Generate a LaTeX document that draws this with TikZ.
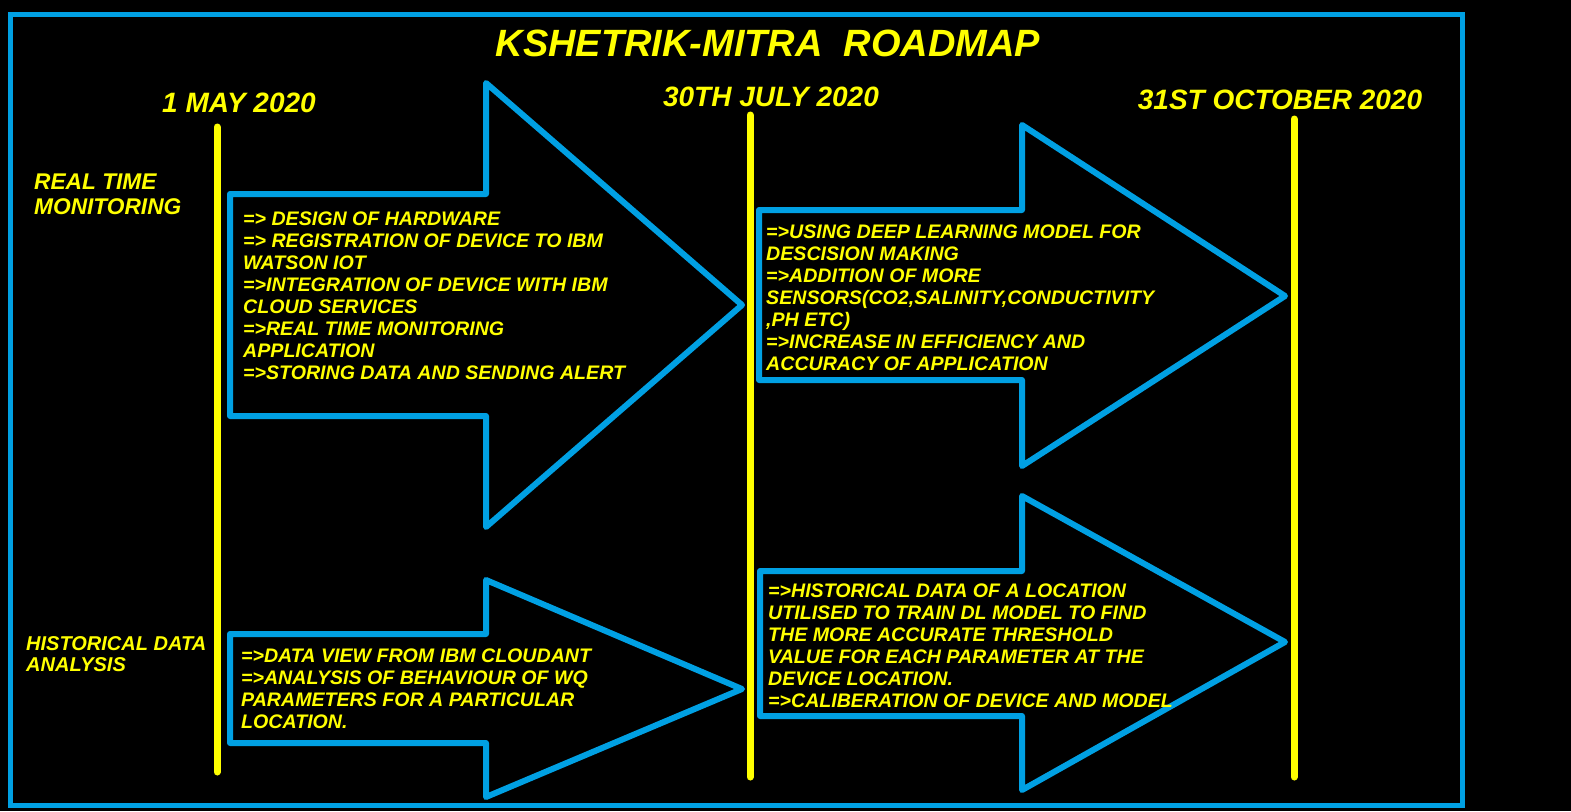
\documentclass[tikz,border=0pt]{standalone}
\usepackage{fontspec}
\setmainfont{Liberation Sans}
\definecolor{blu}{RGB}{0,160,227}
\definecolor{ylw}{RGB}{255,255,0}
\begin{document}
\begin{tikzpicture}[x=1pt,y=-1pt,
  lbl/.style={text=ylw,inner sep=0pt},
  body/.style={lbl,align=left,anchor=north west,font=\fontsize{19.6}{22}\selectfont\bfseries\itshape},
  blk/.style={draw=blu,line width=6pt,line join=round},
  tline/.style={draw=ylw,line width=7pt,line cap=round}]
\fill[black] (0,0) rectangle (1571,811);
\useasboundingbox (0,0) rectangle (1571,811);
\draw[blu,line width=5pt] (10,14) rectangle (1462,805);

% timelines
\coordinate (l1t) at (217,127); \coordinate (l1b) at (217,772);
\coordinate (l2t) at (750,115); \coordinate (l2b) at (750,777);
\coordinate (l3t) at (1294,119); \coordinate (l3b) at (1294,777);
\draw[tline] (l1t) -- (l1b);
\draw[tline] (l2t) -- (l2b);
\draw[tline] (l3t) -- (l3b);

% block arrows
\draw[blk] (230,194) -- (486,194) -- (486,83) -- (742,305) -- (486,527) -- (486,416) -- (230,416) -- cycle;
\draw[blk] (759,210) -- (1022,210) -- (1022,125) -- (1285,296) -- (1022,466) -- (1022,380) -- (759,380) -- cycle;
\draw[blk] (230,634) -- (486,634) -- (486,580) -- (742,689) -- (486,797) -- (486,743) -- (230,743) -- cycle;
\draw[blk] (760,571) -- (1022,571) -- (1022,496) -- (1285,642) -- (1022,790) -- (1022,716) -- (760,716) -- cycle;

% title and dates
\node[lbl,font=\fontsize{38}{40}\selectfont\bfseries\itshape] (title) at (768,43) {KSHETRIK-MITRA\ \ ROADMAP};
\node[lbl,font=\fontsize{28}{30}\selectfont\bfseries\itshape] (d1) at (239,103) {1 MAY 2020};
\node[lbl,font=\fontsize{28}{30}\selectfont\bfseries\itshape] (d2) at (771,97) {30TH JULY 2020};
\node[lbl,font=\fontsize{28}{30}\selectfont\bfseries\itshape] (d3) at (1280,100) {31ST OCTOBER 2020};

% side labels
\node[lbl,align=left,anchor=north west,font=\fontsize{22.7}{25}\selectfont\bfseries\itshape] (s1) at (34,174) {REAL TIME\\MONITORING};
\node[lbl,align=left,anchor=north west,font=\fontsize{20}{21}\selectfont\bfseries\itshape] (s2) at (26,636) {HISTORICAL DATA\\ANALYSIS};

% body texts
\node[body] (t1) at (243,212) {=> DESIGN OF HARDWARE\\=> REGISTRATION OF DEVICE TO IBM\\WATSON IOT\\=>INTEGRATION OF DEVICE WITH IBM\\CLOUD SERVICES\\=>REAL TIME MONITORING\\APPLICATION\\=>STORING DATA AND SENDING ALERT};
\node[body] (t2) at (766,225) {=>USING DEEP LEARNING MODEL FOR\\DESCISION MAKING\\=>ADDITION OF MORE\\SENSORS(CO2,SALINITY,CONDUCTIVITY\\,PH ETC)\\=>INCREASE IN EFFICIENCY AND\\ACCURACY OF APPLICATION};
\node[body] (t3) at (241,649) {=>DATA VIEW FROM IBM CLOUDANT\\=>ANALYSIS OF BEHAVIOUR OF WQ\\PARAMETERS FOR A PARTICULAR\\LOCATION.};
\node[body] (t4) at (768,584) {=>HISTORICAL DATA OF A LOCATION\\UTILISED TO TRAIN DL MODEL TO FIND\\THE MORE ACCURATE THRESHOLD\\VALUE FOR EACH PARAMETER AT THE\\DEVICE LOCATION.\\=>CALIBERATION OF DEVICE AND MODEL};
\end{tikzpicture}
\end{document}
